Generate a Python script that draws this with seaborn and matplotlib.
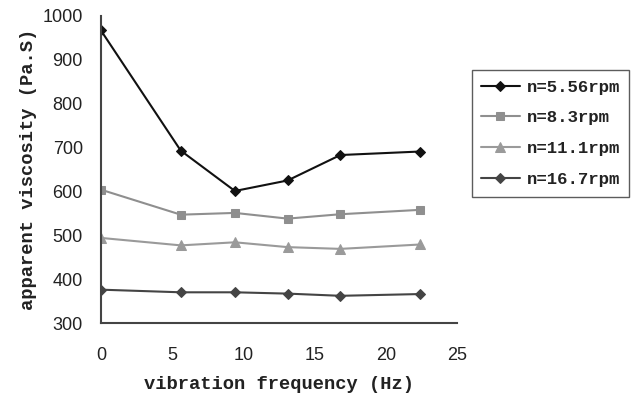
import matplotlib
matplotlib.use("Agg")
import matplotlib.pyplot as plt
import pandas as pd
import seaborn as sns

freq = [0, 5.6, 9.4, 13.1, 16.8, 22.4]
visc_556 = [967, 693, 601, 625, 683, 691]
visc_83 = [604, 547, 551, 538, 548, 558]
visc_111 = [494, 477, 484, 473, 469, 479]
visc_167 = [376, 370, 370, 367, 362, 366]
labels = ["n=5.56rpm", "n=8.3rpm", "n=11.1rpm", "n=16.7rpm"]

rows = []
for lab, vals in zip(labels, [visc_556, visc_83, visc_111, visc_167]):
    for f, v in zip(freq, vals):
        rows.append({"freq": f, "visc": v, "speed": lab})
df = pd.DataFrame(rows)

sns.set_style("white")
plt.rcParams['font.family'] = ['Liberation Mono', 'DejaVu Sans']

fig = plt.figure(figsize=(6.35, 4), dpi=100)
ax = fig.add_axes([0.159, 0.1925, 0.561, 0.7675])

colors = ["#111111", "#8f8f8f", "#9a9a9a", "#444444"]
markers = ["D", "s", "^", "D"]
sizes = [5, 6, 7, 5]
for lab, c, m, s in zip(labels, colors, markers, sizes):
    sub = df[df["speed"] == lab]
    sns.lineplot(data=sub, x="freq", y="visc", ax=ax, color=c, marker=m,
                 markersize=s, markeredgecolor=c, linewidth=1.5, label=lab)

ax.set_xlim(0, 25)
ax.set_ylim(300, 1000)
ax.set_xticks([0, 5, 10, 15, 20, 25])
ax.set_yticks(range(300, 1001, 100))
for t in ax.get_xticklabels() + ax.get_yticklabels():
    t.set_family(['Liberation Sans', 'DejaVu Sans'])
    t.set_fontsize(13)
    t.set_color('#222222')
ax.tick_params(direction='in', length=5, width=1, color='#444444')
ax.tick_params(axis='x', pad=17)
ax.tick_params(axis='y', pad=13)
for sp in ['top', 'right']:
    ax.spines[sp].set_visible(False)
for sp in ['left', 'bottom']:
    ax.spines[sp].set_color('#444444')
    ax.spines[sp].set_linewidth(1.5)

ax.set_xlabel("vibration frequency (Hz)", fontsize=13.5, fontweight='bold',
              color='#222222', labelpad=9)
ax.set_ylabel("apparent viscosity (Pa.S)", fontsize=13.5, fontweight='bold',
              color='#222222', labelpad=4)

leg = ax.legend(loc='upper left', bbox_to_anchor=(0.743, 0.825),
                bbox_transform=fig.transFigure, borderaxespad=0, frameon=True,
                fancybox=False, edgecolor='#333333', handlelength=2.2,
                handletextpad=0.4, labelspacing=0.9, borderpad=0.55,
                prop={'size': 12.5, 'weight': 'bold'})
for t in leg.get_texts():
    t.set_color('#222222')

fig.savefig("out.png", dpi=100)
